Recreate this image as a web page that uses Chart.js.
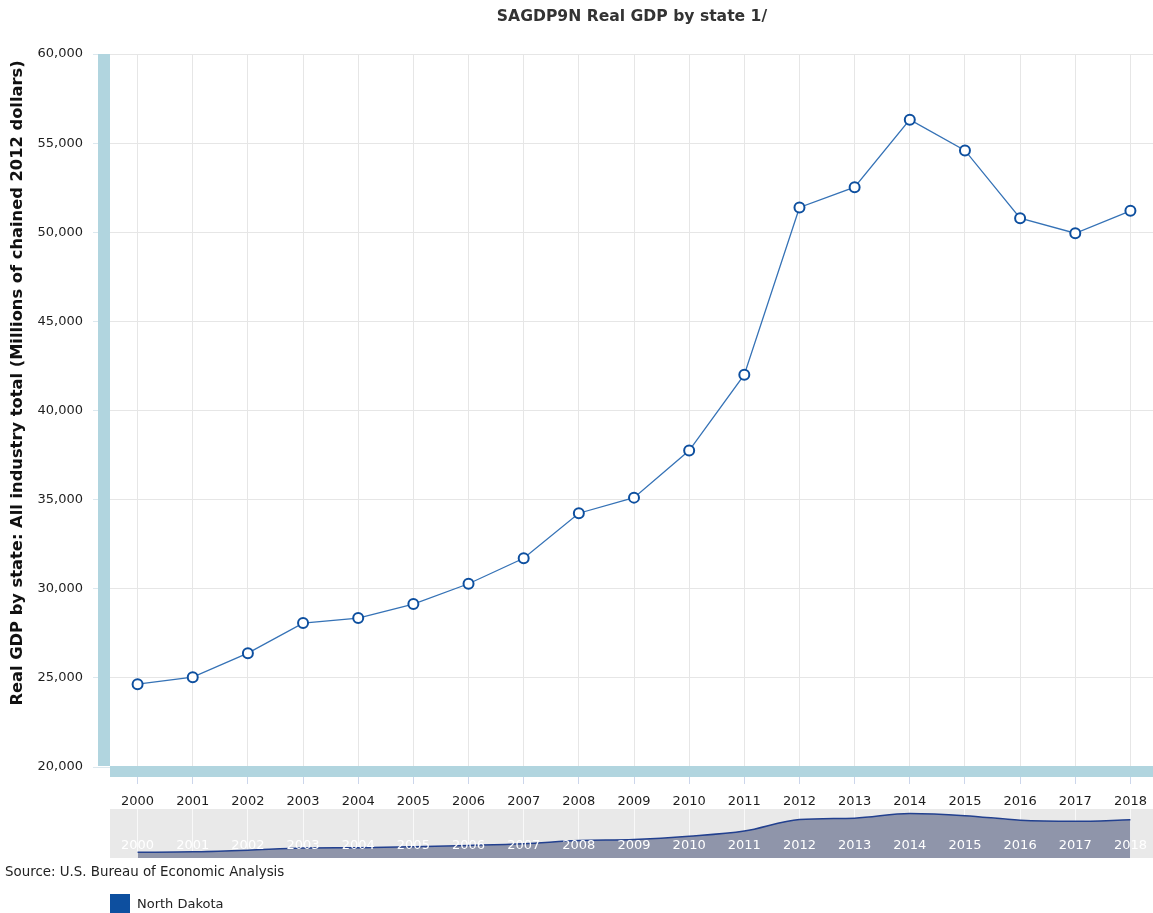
<!DOCTYPE html>
<html>
<head>
<meta charset="utf-8">
<title>SAGDP9N Real GDP by state 1/</title>
<script src="https://cdn.jsdelivr.net/npm/chart.js@4.4.1/dist/chart.umd.min.js"></script>
<style>
  html, body { margin: 0; padding: 0; background: #fff; }
  #wrap { position: relative; width: 1153px; height: 913px; overflow: hidden;
          font-family: "DejaVu Sans", Verdana, sans-serif; }
  #main { position: absolute; left: 0; top: 0; }
  #nav  { position: absolute; left: 110px; top: 809px; background: #e9e9e9; }
  #source { position: absolute; left: 5px; top: 864px; font-size: 13.4px; color: #222; line-height: 16px; }
  #legend { position: absolute; left: 110px; top: 894px; font-size: 13px; color: #222; }
  #legend .item { display: flex; align-items: center; }
  #legend .swatch { width: 20px; height: 19px; margin-right: 7px; }
</style>
</head>
<body>
<div id="wrap">
  <canvas id="main" width="1158" height="913"></canvas>
  <canvas id="nav" width="1048" height="49"></canvas>
  <div id="source">Source: U.S. Bureau of Economic Analysis</div>
  <div id="legend"></div>
</div>
<script>
// Years on the category axis
const years = ['2000', '2001', '2002', '2003', '2004', '2005', '2006', '2007', '2008', '2009',
               '2010', '2011', '2012', '2013', '2014', '2015', '2016', '2017', '2018'];

// Real GDP, millions of chained 2012 dollars
const northDakota = [24646, 25039, 26388, 28073, 28354, 29140, 30281, 31708, 34236, 35112,
                     37753, 42006, 51388, 52528, 56315, 54590, 50787, 49944, 51202];

// Value axis range and step
const yMin = 20000;
const yMax = 60000;
const yStep = 5000;

const seriesName = 'North Dakota';
const chartTitle = 'SAGDP9N Real GDP by state 1/';
const yAxisTitle = 'Real GDP by state: All industry total (Millions of chained 2012 dollars)';

const FONT = '"DejaVu Sans", Verdana, sans-serif';
const SERIES_COLOR = '#0d4f9f';
const LINE_COLOR = '#3572b6';
const AXIS_BAR = '#b1d5df';
const TEXT = '#1e1e1e';

// Thick axis lines along the left and bottom of the plot
const axisBars = {
  id: 'axisBars',
  afterDraw(chart) {
    const { ctx, chartArea: a } = chart;
    ctx.save();
    ctx.fillStyle = AXIS_BAR;
    ctx.fillRect(a.left - 12, a.top, 12, a.bottom - a.top - 1);
    ctx.fillRect(a.left, a.bottom - 1, a.right - a.left, 11);
    ctx.restore();
  }
};

// Chart title over the plot, and the rotated value-axis title
const titles = {
  id: 'titles',
  afterDraw(chart) {
    const { ctx } = chart;
    ctx.save();
    ctx.fillStyle = '#333';
    ctx.textAlign = 'center';
    ctx.textBaseline = 'middle';
    ctx.font = 'bold 15.6px ' + FONT;
    ctx.fillText(chartTitle, 632, 17);
    ctx.translate(18, 383);
    ctx.rotate(-Math.PI / 2);
    ctx.fillStyle = '#111';
    ctx.font = 'bold 16.3px ' + FONT;
    ctx.fillText(yAxisTitle, 0, 0);
    ctx.restore();
  }
};

// Year labels written inside the overview strip
const stripLabels = {
  id: 'stripLabels',
  afterDraw(chart) {
    const { ctx } = chart;
    const x = chart.scales.x;
    ctx.save();
    ctx.fillStyle = '#ffffff';
    ctx.textAlign = 'center';
    ctx.textBaseline = 'middle';
    ctx.font = '13px ' + FONT;
    chart.data.labels.forEach((lbl, i) => {
      ctx.fillText(lbl, x.getPixelForValue(i), 37);
    });
    ctx.restore();
  }
};

function noSidePadding(scale) {
  scale.paddingLeft = 0;
  scale.paddingRight = 0;
}

const mainChart = new Chart(document.getElementById('main'), {
  type: 'line',
  data: {
    labels: years,
    datasets: [{
      label: seriesName,
      data: northDakota,
      borderColor: LINE_COLOR,
      borderWidth: 1.3,
      tension: 0,
      pointRadius: 5,
      pointBorderWidth: 2,
      pointBackgroundColor: '#ffffff',
      pointBorderColor: SERIES_COLOR
    }]
  },
  options: {
    responsive: false,
    animation: false,
    layout: { autoPadding: false, padding: { top: 54, right: 0, bottom: 93, left: 0 } },
    plugins: {
      legend: { display: false },
      title: { display: false },
      tooltip: { enabled: false }
    },
    scales: {
      x: {
        offset: true,
        grid: { color: '#e6e6e6', tickColor: '#ccd6eb', tickLength: 17, offset: false },
        border: { display: false },
        ticks: { color: TEXT, font: { family: FONT, size: 13 }, padding: 10,
                 maxRotation: 0, autoSkip: false },
        afterFit(scale) { scale.height = 53; noSidePadding(scale); }
      },
      y: {
        min: yMin,
        max: yMax,
        grid: { color: '#e6e6e6', tickColor: '#dce8ee', tickLength: 17 },
        border: { display: false },
        ticks: {
          stepSize: yStep,
          color: TEXT,
          font: { family: FONT, size: 13 },
          padding: 10,
          callback: v => v.toLocaleString('en-US')
        },
        afterFit(scale) { scale.width = 110; }
      }
    }
  },
  plugins: [axisBars, titles]
});

// Overview strip under the axis
new Chart(document.getElementById('nav'), {
  type: 'line',
  data: {
    labels: years,
    datasets: [{
      data: northDakota,
      borderColor: '#22408f',
      borderWidth: 1.5,
      backgroundColor: '#8f95aa',
      fill: 'start',
      pointRadius: 0,
      cubicInterpolationMode: 'monotone'
    }]
  },
  options: {
    responsive: false,
    animation: false,
    layout: { autoPadding: false, padding: 0 },
    plugins: { legend: { display: false }, tooltip: { enabled: false } },
    scales: {
      x: {
        offset: true,
        z: 1,
        grid: { color: 'rgba(255,255,255,0.75)', drawTicks: false, offset: false },
        border: { display: false },
        ticks: { display: false },
        afterFit(scale) { scale.height = 0; noSidePadding(scale); }
      },
      y: { display: false, min: yMin, max: yMax }
    }
  },
  plugins: [stripLabels]
});

// Legend built from the chart's datasets
const legendEl = document.getElementById('legend');
mainChart.data.datasets.forEach(ds => {
  const item = document.createElement('div');
  item.className = 'item';
  const sw = document.createElement('span');
  sw.className = 'swatch';
  sw.style.background = ds.pointBorderColor;
  const txt = document.createElement('span');
  txt.textContent = ds.label;
  item.appendChild(sw);
  item.appendChild(txt);
  legendEl.appendChild(item);
});
</script>
</body>
</html>
